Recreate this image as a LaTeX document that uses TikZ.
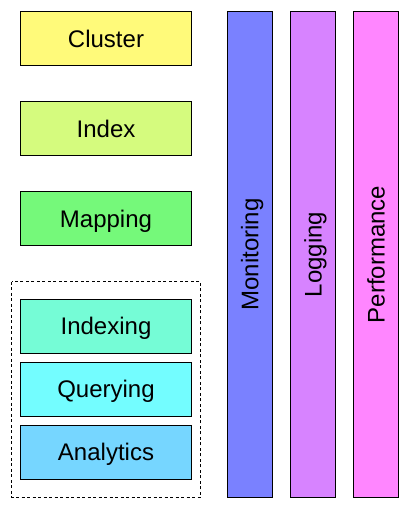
\documentclass[tikz,border=0pt]{standalone}
\usepackage{fontspec}
\setmainfont{Liberation Sans}
% label text whose descenders do not count when it is centred
\newcommand{\nodesc}[1]{\raisebox{0pt}[\height][0pt]{#1}}
\begin{document}
\begin{tikzpicture}[x=1pt,y=-1pt,
  box/.style={draw=black, line width=1pt, minimum width=171pt, minimum height=54pt,
    inner sep=0pt, text height=17.3pt, text depth=0pt, font=\fontsize{24}{28}\selectfont},
  bar/.style={draw=black, line width=1pt, minimum width=45pt, minimum height=486pt,
    inner sep=0pt, font=\fontsize{24}{28}\selectfont},
  group/.style={draw=black, line width=0.8pt, dash pattern=on 3pt off 2.5pt}]
  \definecolor{cBanana}{HTML}{FFFA7A}
  \definecolor{cHoneydew}{HTML}{D5FB7E}
  \definecolor{cFlora}{HTML}{75F97A}
  \definecolor{cSpindrift}{HTML}{75FCD6}
  \definecolor{cIce}{HTML}{73FDFF}
  \definecolor{cSky}{HTML}{76D6FF}
  \definecolor{cOrchid}{HTML}{7A81FF}
  \definecolor{cLavender}{HTML}{D783FF}
  \definecolor{cPink}{HTML}{FF86FF}
  \useasboundingbox (0,0) rectangle (409,508);

  % grouping frame around the processing stages
  \draw[group] (11.8,281.8) rectangle (200.5,497.5);

  % stacked left column
  \node[box, fill=cBanana]    (cluster)   at (106,38.5)  {Cluster};
  \node[box, fill=cHoneydew]  (index)     at (106,128.5) {Index};
  \node[box, fill=cFlora]     (mapping)   at (106,218.5) {Mapping};
  \node[box, fill=cSpindrift] (indexing)  at (106,326.3) {Indexing};
  \node[box, fill=cIce]       (querying)  at (106,389.2) {Querying};
  \node[box, fill=cSky]       (analytics) at (106,452.3) {Analytics};

  % cross-cutting vertical bars
  \node[bar, fill=cOrchid]   (monitoring)  at (249.8,254.4) {\rotatebox{90}{\nodesc{Monitoring}}};
  \node[bar, fill=cLavender] (logging)     at (313,254.4)   {\rotatebox{90}{\nodesc{Logging}}};
  \node[bar, fill=cPink]     (performance) at (376,254.4)   {\rotatebox{90}{\nodesc{Performance}}};
\end{tikzpicture}
\end{document}
